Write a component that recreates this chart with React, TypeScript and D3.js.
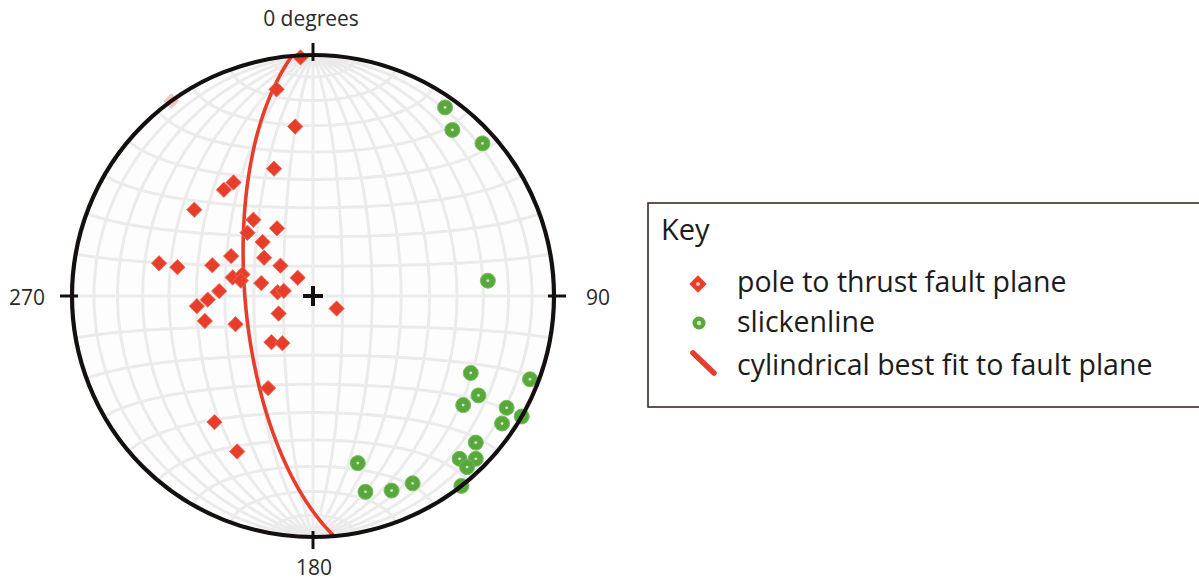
import React from 'react';
import * as d3 from 'd3';

// Poles to thrust fault planes: [trend, plunge] in degrees (lower hemisphere)
const polesToThrustFault: [number, number][] = [
  [357, 1], [350, 14], [354, 30], [343, 44], [325, 42], [320, 42], [306, 39],
  [322, 57], [332, 64], [314, 59], [317, 65], [282, 35], [282, 42], [287, 54],
  [296, 59], [308, 69], [313, 75], [320, 82], [283, 62], [287, 65], [282, 65],
  [284, 72], [276, 78], [280, 80], [273, 58], [268, 54], [265, 50], [257, 52],
  [250, 62], [243, 77], [222, 69], [213, 71], [118, 81], [206, 55], [218, 34],
  [206, 29],
];
const polesFaded: [number, number][] = [[324, 0]];

// Slickenlines: [trend, plunge]
const slickenlines: [number, number][] = [
  [35, 5], [40, 11], [48, 6], [85, 28], [116, 28], [121, 21], [126, 24],
  [111, 4], [120, 8], [124, 6], [120, 0], [132, 10], [138, 10], [135, 5],
  [138, 5], [142, 0], [165, 29], [165, 17], [158, 14], [152, 13],
];

// Cylindrical best-fit plane: dip direction / dip
const bestFitDipDirection = 265;
const bestFitDip = 67;

const directionAzimuths = [0, 90, 180, 270];
const directionTexts = ['0 degrees', '90', '180', '270'];
const legendTitle = 'Key';
const legendLabels = [
  'pole to thrust fault plane',
  'slickenline',
  'cylindrical best fit to fault plane',
];

const W = 1199;
const H = 584;
const CX = 313;
const CY = 296;
const R = 241;
const RED = '#e63e2b';
const GREEN = '#58a83c';
const RAD = Math.PI / 180;

function toGeo([trend, plunge]: [number, number]): [number, number] {
  const c = (90 - plunge) * RAD;
  const t = trend * RAD;
  const lon = Math.atan2(Math.sin(c) * Math.sin(t), Math.cos(c)) / RAD;
  const lat = Math.asin(Math.max(-1, Math.min(1, Math.sin(c) * Math.cos(t)))) / RAD;
  return [lon, lat];
}

export default function App() {
  const projection = d3
    .geoAzimuthalEqualArea()
    .rotate([0, 0])
    .scale(R / Math.SQRT2)
    .translate([CX, CY])
    .clipAngle(90)
    .precision(0.2);
  const path = d3.geoPath(projection);
  const graticule = d3.geoGraticule().step([10, 10]);
  const gridD = path(graticule()) || '';

  const poleOfPlane: [number, number] = [
    (bestFitDipDirection + 180) % 360,
    90 - bestFitDip,
  ];
  const circlePoly = d3.geoCircle().center(toGeo(poleOfPlane)).radius(90).precision(0.5)();
  const greatCircle = {
    type: 'LineString',
    coordinates: circlePoly.coordinates[0],
  } as any;
  const greatD = path(greatCircle) || '';

  const diamond = d3.symbol(d3.symbolSquare, 118)() || '';
  const legendDiamond = d3.symbol(d3.symbolSquare, 150)() || '';

  const proj = (p: [number, number]) => projection(toGeo(p)) as [number, number];

  const labelPos = (az: number) => {
    const a = az * RAD;
    if (az === 0) return { x: CX - 2, y: CY - R - 29, anchor: 'middle' };
    if (az === 180) return { x: CX + 1, y: CY + R + 38, anchor: 'middle' };
    if (az === 90) return { x: CX + R * Math.sin(a) + 32, y: CY + 9, anchor: 'start' };
    return { x: CX + R * Math.sin(a) - 27, y: CY + 9, anchor: 'end' };
  };

  return (
    <svg
      width={W}
      height={H}
      style={{ position: 'absolute', left: 0, top: 0, background: '#fff' }}
      fontFamily="'Open Sans', 'Noto Sans', sans-serif"
    >
      <rect x={0} y={0} width={W} height={H} fill="#fff" />
      {/* net background */}
      <circle cx={CX} cy={CY} r={R} fill="#fdfdfd" />
      <path d={gridD} fill="none" stroke="#ebebeb" strokeWidth={3} />

      {/* best-fit great circle */}
      <path d={greatD} fill="none" stroke={RED} strokeWidth={3.6} />

      {/* faded pole */}
      {polesFaded.map((p, i) => {
        const [x, y] = proj(p);
        return (
          <path key={'f' + i} d={diamond} transform={`translate(${x},${y}) rotate(45)`} fill={RED} opacity={0.3} />
        );
      })}

      {/* poles */}
      {polesToThrustFault.map((p, i) => {
        const [x, y] = proj(p);
        return (
          <path key={'p' + i} d={diamond} transform={`translate(${x},${y}) rotate(45)`} fill={RED} stroke="#ef6e56" strokeWidth={0.8} />
        );
      })}

      {/* slickenlines */}
      {slickenlines.map((p, i) => {
        const [x, y] = proj(p);
        return (
          <g key={'s' + i}>
            <circle cx={x} cy={y} r={7.5} fill={GREEN} stroke="#79bb62" strokeWidth={1} />
            <circle cx={x} cy={y} r={1.4} fill="#d4ecc6" />
          </g>
        );
      })}

      {/* primitive circle */}
      <circle cx={CX} cy={CY} r={R} fill="none" stroke="#141010" strokeWidth={4.2} />

      {/* ticks */}
      {directionAzimuths.map((az) => {
        const a = az * RAD;
        const sx = Math.sin(a);
        const sy = -Math.cos(a);
        return (
          <line
            key={'t' + az}
            x1={CX + sx * (R - 6)}
            y1={CY + sy * (R - 6)}
            x2={CX + sx * (R + 12)}
            y2={CY + sy * (R + 12)}
            stroke="#141010"
            strokeWidth={3}
          />
        );
      })}

      {/* center cross */}
      <line x1={CX - 10} y1={CY} x2={CX + 10} y2={CY} stroke="#141010" strokeWidth={4} />
      <line x1={CX} y1={CY - 10} x2={CX} y2={CY + 10} stroke="#141010" strokeWidth={4} />

      {/* direction labels */}
      {directionAzimuths.map((az, i) => {
        const lp = labelPos(az);
        return (
          <text key={'l' + az} x={lp.x} y={lp.y} textAnchor={lp.anchor as any} fontSize={21} fill="#2a2a2a">
            {directionTexts[i]}
          </text>
        );
      })}

      {/* legend */}
      <rect x={648} y={203} width={600} height={204} fill="#fff" stroke="#3b2b22" strokeWidth={1.6} />
      <text x={661} y={240} fontSize={29} fill="#1c1c1c">{legendTitle}</text>
      <path d={legendDiamond} transform="translate(698,284) rotate(45)" fill={RED} />
      <circle cx={698} cy={284} r={2} fill="#f6c1b5" />
      <circle cx={699} cy={323} r={6.5} fill={GREEN} />
      <circle cx={699} cy={323} r={2.2} fill="#cfeabf" />
      <line x1={693} y1={353} x2={714} y2={373} stroke={RED} strokeWidth={5.5} strokeLinecap="round" />
      {legendLabels.map((t, i) => (
        <text key={'lg' + i} x={737} y={[292, 332, 375][i]} fontSize={28.5} fill="#1c1c1c">
          {t}
        </text>
      ))}
    </svg>
  );
}
